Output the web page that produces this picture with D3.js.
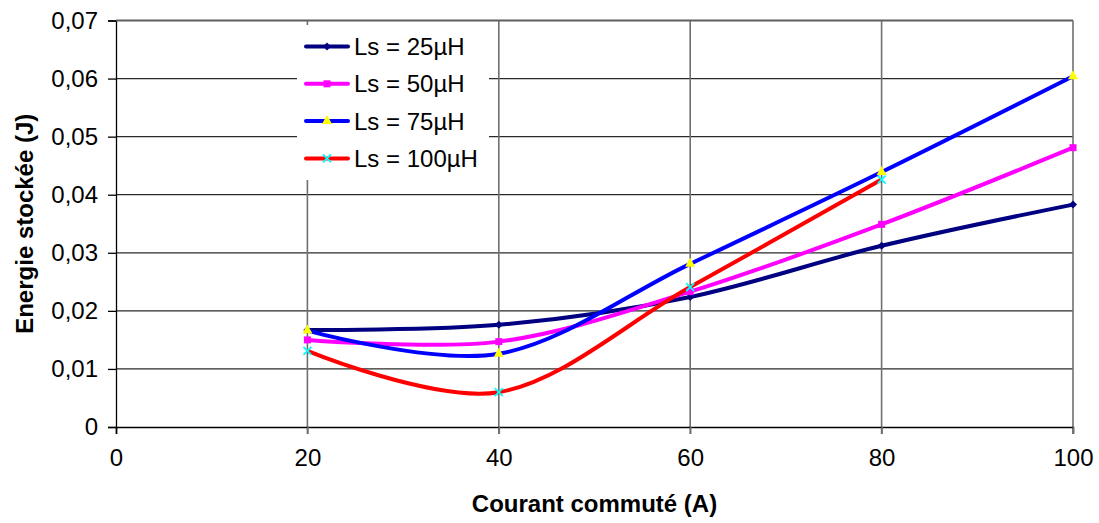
<!DOCTYPE html>
<html><head><meta charset="utf-8">
<script src="https://cdn.jsdelivr.net/npm/d3@7"></script>
<style>body{margin:0;background:#fff}svg text{font-family:"Liberation Sans",Arial,sans-serif}</style>
</head><body><svg id="c" width="1099" height="523"></svg>
<script>
const xValues = [20, 40, 60, 80, 100];
const seriesNames = ["Ls = 25µH", "Ls = 50µH", "Ls = 75µH", "Ls = 100µH"];
const ls25 = [0.0167, 0.0176, 0.0224, 0.0312, 0.0383];
const ls50 = [0.0150, 0.0147, 0.0233, 0.0349, 0.0481];
const ls75 = [0.0166, 0.0126, 0.0281, 0.0439, 0.0604];
const ls100 = [0.0131, 0.0060, 0.0241, 0.0426];
const xTicks = [0, 20, 40, 60, 80, 100];
const yTicks = [0, 0.01, 0.02, 0.03, 0.04, 0.05, 0.06, 0.07];
const xTitle = "Courant commuté (A)";
const yTitle = "Energie stockée (J)";

const lineColors = ["#000080", "#FF00FF", "#0000FF", "#FF0000"];
const markerColors = ["#000080", "#FF00FF", "#FFFF00", "#00FFFF"];
const markerTypes = ["diamond", "square", "triangle", "x"];
const allSeries = [ls25, ls50, ls75, ls100];

const svg = d3.select("#c");
const L = 116, R = 1073, T = 20.5, B = 427;
const FS = 24;
const x = d3.scaleLinear().domain([0, 100]).range([L, R]);
const y = d3.scaleLinear().domain([0, 0.07]).range([B, T]);
const fmt = d => d === 0 ? "0" : d3.format(".2f")(d).replace(".", ",");

// horizontal grid
svg.append("g").selectAll("line").data(yTicks.slice(1)).join("line")
  .attr("x1", L).attr("x2", R).attr("y1", d => y(d)).attr("y2", d => y(d))
  .attr("stroke", "#2a2a2a").attr("stroke-width", 1.3);
// vertical grid (extend as ticks below axis)
svg.append("g").selectAll("line").data(xTicks.slice(1)).join("line")
  .attr("x1", d => x(d)).attr("x2", d => x(d)).attr("y1", T).attr("y2", B + 7)
  .attr("stroke", "#707070").attr("stroke-width", 1.6);

// y axis
const yAxis = svg.append("g").attr("transform", `translate(${L},0)`)
  .call(d3.axisLeft(y).tickValues(yTicks).tickFormat(fmt).tickSize(8).tickPadding(10));
yAxis.select(".domain").attr("stroke", "#000").attr("stroke-width", 1.3);
yAxis.selectAll(".tick line").attr("stroke", "#000").attr("stroke-width", 1.3);
yAxis.selectAll("text").attr("font-size", FS).attr("fill", "#000")
  .attr("font-family", '"Liberation Sans",Arial,sans-serif');
// x axis
const xAxis = svg.append("g").attr("transform", `translate(0,${B})`)
  .call(d3.axisBottom(x).tickValues(xTicks).tickFormat(d => d).tickSize(7).tickPadding(15));
xAxis.select(".domain").attr("stroke", "#000").attr("stroke-width", 1.3);
xAxis.selectAll(".tick line").attr("stroke", d => d === 0 ? "#000" : "#707070").attr("stroke-width", 1.6);
xAxis.selectAll("text").attr("font-size", FS).attr("fill", "#000")
  .attr("font-family", '"Liberation Sans",Arial,sans-serif');

// lines
const line = d3.line().x((d, i) => x(xValues[i])).y(d => y(d)).curve(d3.curveCardinal.tension(0));
allSeries.forEach((s, k) => {
  svg.append("path").datum(s).attr("d", line).attr("fill", "none")
    .attr("stroke", lineColors[k]).attr("stroke-width", 4).attr("stroke-linejoin", "round");
});

function marker(g, type, color, cx, cy) {
  if (type === "diamond") {
    g.append("path").attr("d", `M${cx},${cy-4}L${cx+4},${cy}L${cx},${cy+4}L${cx-4},${cy}Z`).attr("fill", color);
  } else if (type === "square") {
    g.append("rect").attr("x", cx-3.5).attr("y", cy-3.5).attr("width", 7).attr("height", 7).attr("fill", color);
  } else if (type === "triangle") {
    g.append("path").attr("d", `M${cx},${cy-6}L${cx+5},${cy+3}L${cx-5},${cy+3}Z`).attr("fill", color);
  } else {
    g.append("path").attr("d", `M${cx-4},${cy-4}L${cx+4},${cy+4}M${cx+4},${cy-4}L${cx-4},${cy+4}`)
      .attr("stroke", color).attr("stroke-width", 1.8);
  }
}
const mg = svg.append("g");
allSeries.forEach((s, k) => {
  s.forEach((v, i) => marker(mg, markerTypes[k], markerColors[k], x(xValues[i]), y(v)));
});

// top border
svg.append("line").attr("x1", L).attr("x2", R).attr("y1", T).attr("y2", T).attr("stroke", "#606060").attr("stroke-width", 1.3);

// legend
const lg = svg.append("g");
lg.append("rect").attr("x", 297).attr("y", 25).attr("width", 192).attr("height", 155).attr("fill", "#fff");
seriesNames.forEach((n, k) => {
  const cy = 46.5 + k * 37.3;
  lg.append("line").attr("x1", 306).attr("x2", 348).attr("y1", cy).attr("y2", cy)
    .attr("stroke", lineColors[k]).attr("stroke-width", 4).attr("stroke-linecap", "round");
  marker(lg, markerTypes[k], markerColors[k], 327, cy);
  lg.append("text").attr("x", 354).attr("y", cy + 8.5).attr("font-size", FS).text(n);
});

// titles
svg.append("text").attr("x", (L + R) / 2).attr("y", 512).attr("text-anchor", "middle")
  .attr("font-size", FS).attr("font-weight", "bold").text(xTitle);
svg.append("text").attr("transform", `translate(33,${(T + B) / 2}) rotate(-90)`).attr("text-anchor", "middle")
  .attr("font-size", FS).attr("font-weight", "bold").text(yTitle);
</script></body></html>
